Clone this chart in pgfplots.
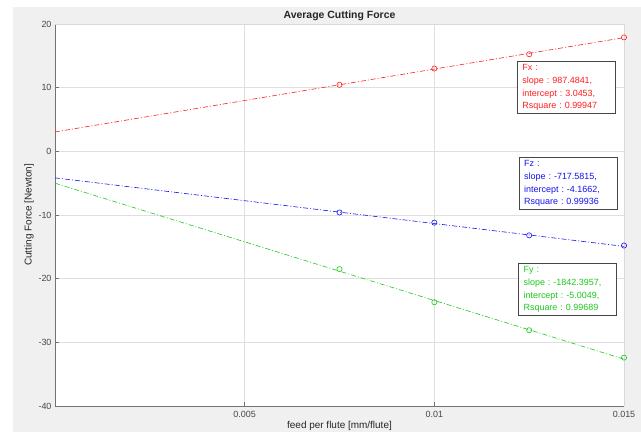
\documentclass[border=0pt]{standalone}
\usepackage{pgfplots}
\pgfplotsset{compat=1.18}
\usepackage{fontspec}
\setmainfont{Liberation Sans}
\frenchspacing
\definecolor{mred}{RGB}{255,30,30}
\definecolor{mblue}{RGB}{20,20,240}
\definecolor{mgreen}{RGB}{30,200,30}
\definecolor{figbg}{RGB}{240,240,240}
\definecolor{axdark}{RGB}{115,115,115}
\definecolor{boxdark}{RGB}{70,70,70}
\definecolor{txt}{RGB}{70,70,70}
\tikzset{dashdot/.style={dash pattern=on 5bp off 2bp on 1bp off 2bp}}
\begin{document}
\begin{tikzpicture}[x=1bp,y=1bp]
\useasboundingbox (-55,-27) rectangle (586,406);
\fill[white] (-55,-27) rectangle (586,406);
\fill[figbg] (-42,-26) rectangle (586,399);
\begin{axis}[
  at={(0,0)}, anchor=south west,
  scale only axis, width=569bp, height=382bp,
  xmin=0, xmax=0.015, ymin=-40, ymax=20,
  xtick={0.005,0.01,0.015},
  xticklabels={0.005,0.01,0.015},
  ytick={-40,-30,-20,-10,0,10,20},
  scaled x ticks=false,
  axis background/.style={fill=white},
  grid=major,
  major grid style={draw=gray!25, line width=0.4pt},
  tick align=inside,
  major tick length=4bp,
  tick style={draw=axdark, line width=0.6pt},
  axis x line*=bottom, axis y line*=left,
  axis line style={draw=axdark, line width=0.8pt, -},
  tick label style={font=\fontsize{9}{10}\selectfont, text=txt},
  /pgf/number format/assume math mode=true,
  xticklabel style={yshift=-1.5bp},
  title={\textbf{Average Cutting Force}},
  title style={font=\fontsize{10.5}{12}\selectfont, text=black!85, yshift=-6bp},
  xlabel={feed per flute [mm/flute]},
  ylabel={Cutting Force [Newton]},
  xlabel style={font=\fontsize{10}{11}\selectfont, text=black!85, yshift=3bp},
  ylabel style={font=\fontsize{10}{11}\selectfont, text=black!85, yshift=-2bp},
  clip=false,
]
% top/right box lines
\draw[gray!30, line width=0.5pt] (rel axis cs:0,1) -- (rel axis cs:1,1) -- (rel axis cs:1,0);
% fit lines
\addplot[mred, dashdot, line width=0.6pt] coordinates {(0,3.0453) (0.015,17.8576)};
\addplot[mblue, dashdot, line width=0.6pt] coordinates {(0,-4.1662) (0.015,-14.9299)};
\addplot[mgreen, dashdot, line width=0.6pt] coordinates {(0,-5.0049) (0.015,-32.6408)};
% data points
\addplot[only marks, mark=o, mark size=2.6bp, mred, mark options={line width=0.6pt}] coordinates {(0.0075,10.45) (0.01,13.0) (0.0125,15.25) (0.015,17.9)};
\addplot[only marks, mark=o, mark size=2.6bp, mblue, mark options={line width=0.6pt}] coordinates {(0.0075,-9.6) (0.01,-11.2) (0.0125,-13.2) (0.015,-14.8)};
\addplot[only marks, mark=o, mark size=2.6bp, mgreen, mark options={line width=0.6pt}] coordinates {(0.0075,-18.5) (0.01,-23.7) (0.0125,-28.1) (0.015,-32.4)};
% annotation boxes
\node[anchor=north west, draw=boxdark, line width=0.8pt, fill=white, text=mred, align=left,
  font=\fontsize{9}{12.8}\selectfont, inner xsep=5bp, inner ysep=3bp, text width=88bp] at (rel axis cs:0.812,0.903)
  {Fx :\\slope : 987.4841,\\intercept : 3.0453,\\Rsquare : 0.99947};
\node[anchor=north west, draw=boxdark, line width=0.8pt, fill=white, text=mblue, align=left,
  font=\fontsize{9}{12.8}\selectfont, inner xsep=5bp, inner ysep=3bp, text width=88bp] at (rel axis cs:0.815,0.652)
  {Fz :\\slope : -717.5815,\\intercept : -4.1662,\\Rsquare : 0.99936};
\node[anchor=north west, draw=boxdark, line width=0.8pt, fill=white, text=mgreen, align=left,
  font=\fontsize{9}{12.8}\selectfont, inner xsep=5bp, inner ysep=3bp, text width=88bp] at (rel axis cs:0.814,0.374)
  {Fy :\\slope : -1842.3957,\\intercept : -5.0049,\\Rsquare : 0.99689};
\end{axis}
\end{tikzpicture}
\end{document}
